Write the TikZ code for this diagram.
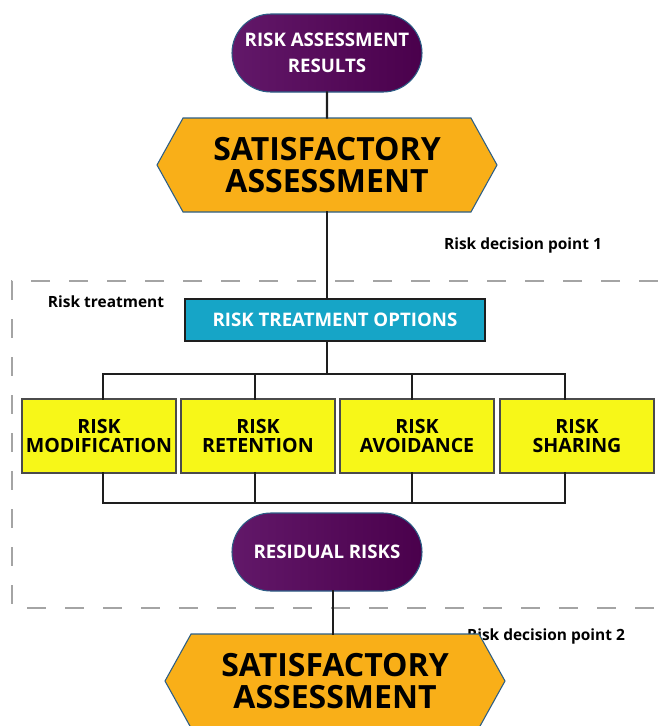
\documentclass[tikz,border=0pt]{standalone}
\usepackage{fontspec}
\setmainfont{Open Sans}
\usetikzlibrary{shapes.misc,shapes.symbols}
\definecolor{purpleL}{HTML}{621869}
\definecolor{purpleR}{HTML}{4A004C}
\definecolor{termedge}{HTML}{2C5E86}
\definecolor{satorange}{HTML}{F9AF18}
\definecolor{optcyan}{HTML}{16A5C7}
\definecolor{optyellow}{HTML}{F7F718}
\definecolor{framegray}{HTML}{A4A4A4}
\definecolor{wirecol}{HTML}{1E1E1E}
\tikzset{
  terminal/.style={rounded rectangle, draw=termedge, line width=0.8pt,
    left color=purpleL, right color=purpleR, text=white, align=center,
    font=\bfseries\fontsize{14}{19.5}\selectfont,
    minimum width=142.5pt, minimum height=58.5pt, inner sep=0pt},
  decision/.style={signal, signal to=west and east, signal pointer angle=122,
    draw=termedge, line width=0.8pt, fill=satorange, align=center,
    font=\bfseries\fontsize{24}{23.5}\selectfont,
    minimum width=255pt, minimum height=70.5pt, inner sep=0pt},
  header/.style={rectangle, draw=wirecol, line width=1.3pt, fill=optcyan,
    text=white, font=\bfseries\fontsize{14}{16}\selectfont,
    minimum width=225pt, minimum height=32pt, inner sep=0pt},
  option/.style={rectangle, draw=wirecol!80, line width=0.8pt, fill=optyellow,
    align=center, font=\bfseries\fontsize{14.7}{14.5}\selectfont,
    minimum width=115.5pt, minimum height=55.5pt, inner sep=0pt},
  wire/.style={draw=wirecol, line width=1.7pt, line cap=rect},
  note/.style={font=\bfseries\fontsize{11.6}{13}\selectfont}
}

\begin{document}
\begin{tikzpicture}[x=0.75pt,y=-0.75pt]
  \useasboundingbox (0,0) rectangle (658,726);
  % treatment frame
  \draw[framegray, line width=2pt, dash pattern=on 14pt off 14.5pt]
    (658,281) -- (12,281) -- (12,608) -- (658,608);
  \node[note] (treat) at (106,302) {Risk treatment};
  \node[note] (dp1) at (523,245) {Risk decision point 1};
  \node[note] (dp2) at (546,636) {Risk decision point 2};

  \node[terminal] (results) at (327,53) {RISK ASSESSMENT\\RESULTS};
  \node[decision] (sat1) at (327,165) {SATISFACTORY\\ASSESSMENT};
  \node[header] (rto) at (335,320) {RISK TREATMENT OPTIONS};
  \node[option] (m1) at (99,436) {RISK\\MODIFICATION};
  \node[option] (m2) at (258,436) {RISK\\RETENTION};
  \node[option] (m3) at (417,436) {RISK\\AVOIDANCE};
  \node[option] (m4) at (577,436) {RISK\\SHARING};
  \node[terminal] (residual) at (327,552) {RESIDUAL RISKS};
  \node[decision] (sat2) at (335,681) {SATISFACTORY\\ASSESSMENT};

  \coordinate (bus1) at (327,374);
  \coordinate (bus2) at (327,503);

  \draw[wire] (results) -- (sat1);
  \draw[wire] (sat1.south) -- (sat1.south |- rto.north);
  \draw[wire] (sat1.south |- rto.south) -- (bus1);
  \draw[wire] ([xshift=3pt]m1.north |- bus1) -- ([xshift=-9pt]m4.north |- bus1);
  \draw[wire] ([xshift=3pt]m1.south |- bus2) -- ([xshift=-9pt]m4.south |- bus2);
  \foreach \n/\dx in {m1/3pt, m2/-2.25pt, m3/-3.75pt, m4/-9pt} {
    \draw[wire] ([xshift=\dx]\n.north) -- ([xshift=\dx]\n.north |- bus1);
    \draw[wire] ([xshift=\dx]\n.south) -- ([xshift=\dx]\n.south |- bus2);
  }
  \draw[wire] ([xshift=-1.5pt]sat2.north |- residual.south) -- ([xshift=-1.5pt]sat2.north);
\end{tikzpicture}
\end{document}
